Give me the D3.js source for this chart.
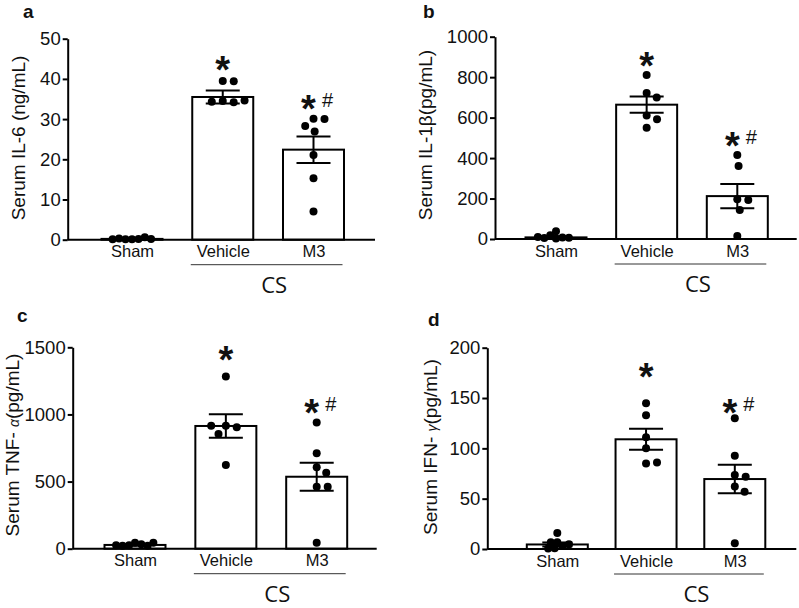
<!DOCTYPE html>
<html>
<head>
<meta charset="utf-8">
<script src="https://cdnjs.cloudflare.com/ajax/libs/d3/7.8.5/d3.min.js"></script>
<style>
  body { margin: 0; background: #fff; }
  text { font-family: Arial, "Liberation Sans", sans-serif; fill: #111; }
</style>
</head>
<body>
<div id="chart"></div>
<script>
// groups on the x axis
var groups = ["Sham", "Vehicle", "M3"];

// a - IL-6 (ng/mL)
var il6Sham = [0.1, 0.2, 0.1, 0.3, 0.6, 0.2, 0.1];
var il6Vehicle = [39.5, 39.4, 34.5, 34.2, 34.3, 34.6];
var il6M3 = [30.1, 30.0, 28.3, 26.9, 21.1, 15.3, 7.0];
var il6Mean = [0.2, 35.5, 22.4];
var il6Sem = [0.1, 1.6, 3.3];
var il6Ticks = [0, 10, 20, 30, 40, 50];

// b - IL-1beta (pg/mL)
var il1Sham = [3, 8, 18, 5, 38, 6, 10];
var il1Vehicle = [811, 722, 700, 610, 592, 550];
var il1M3 = [415, 361, 196, 193, 143, 15];
var il1Mean = [8, 664, 212];
var il1Sem = [5, 40, 60];
var il1Ticks = [0, 200, 400, 600, 800, 1000];

// c - TNF-alpha (pg/mL)
var tnfSham = [45, 33, 25, 22, 22, 25, 45];
var tnfVehicle = [1282, 916, 904, 855, 916, 624];
var tnfM3 = [939, 711, 607, 566, 462, 462, 45];
var tnfMean = [28, 914, 536];
var tnfSem = [6, 87, 104];
var tnfTicks = [0, 500, 1000, 1500];

// d - IFN-gamma (pg/mL)
var ifnSham = [16, 6.6, 3, 0.7, 0.5, 4.7, 6.6];
var ifnVehicle = [144.8, 133, 111, 100, 85, 86];
var ifnM3 = [130, 92.7, 73.5, 71.8, 62, 57, 5.6];
var ifnMean = [4.5, 109, 69.5];
var ifnSem = [2, 10.4, 14.2];
var ifnTicks = [0, 50, 100, 150, 200];

var W = 799, H = 608;
var barW = 61, dotR = 4;

var svg = d3.select("#chart").append("svg")
    .attr("width", W)
    .attr("height", H);

// panel layout (pixels) + where the significance marks sit (data units)
var panels = [
  {letter: "a", lx: 23, ly: 18, ax: 67.7, y0: 239.7, yTop: 38.7, c0: 64.3, c1: 245.8, w: 307.3,
   max: 50, ticks: il6Ticks, pts: [il6Sham, il6Vehicle, il6M3], mean: il6Mean, sem: il6Sem,
   labX: 18, labY: 138, label: ["Serum IL-6 (ng/mL)"], star: [44.6, 35]},
  {letter: "b", lx: 423, ly: 18, ax: 495, y0: 239, yTop: 36.7, c0: 61, c1: 242.3, w: 301.7,
   max: 1000, ticks: il1Ticks, pts: [il1Sham, il1Vehicle, il1M3], mean: il1Mean, sem: il1Sem,
   labX: 425, labY: 135, label: ["Serum IL-1\u03b2(pg/mL)"], star: [905, 510]},
  {letter: "c", lx: 17, ly: 322, ax: 72.7, y0: 548.7, yTop: 347.3, c0: 62.3, c1: 244, w: 304,
   max: 1500, ticks: tnfTicks, pts: [tnfSham, tnfVehicle, tnfM3], mean: tnfMean, sem: tnfSem,
   labX: 12, labY: 445, label: ["Serum TNF- ", "\u03b1", "(pg/mL)"], star: [1480, 1086]},
  {letter: "d", lx: 428, ly: 326, ax: 487.3, y0: 549, yTop: 347.7, c0: 70, c1: 247.5, w: 309,
   max: 200, ticks: ifnTicks, pts: [ifnSham, ifnVehicle, ifnM3], mean: ifnMean, sem: ifnSem,
   labX: 430, labY: 447, label: ["Serum IFN- ", "\u03b3", "(pg/mL)"], star: [181, 145]}
];

// simple beeswarm: each point goes to the closest free spot to the centre
function swarm(vals, yS, dist) {
  var placed = [];
  return vals.map(function(v) {
    var py = yS(v), cands = [0];
    placed.forEach(function(q) {
      var dy = py - q.y;
      if (Math.abs(dy) < dist) {
        var dx = Math.sqrt(dist * dist - dy * dy);
        cands.push(q.x + dx, q.x - dx);
      }
    });
    cands.sort(function(a, b) { return Math.abs(a) - Math.abs(b); });
    var best = cands.find(function(c) {
      return placed.every(function(q) {
        return (c - q.x) * (c - q.x) + (py - q.y) * (py - q.y) >= dist * dist - 0.01;
      });
    });
    placed.push({x: best, y: py});
    return {x: best, y: py};
  });
}

panels.forEach(function(p) {
  var y = d3.scaleLinear().domain([0, p.max]).range([p.y0, p.yTop]);
  var x = d3.scalePoint().domain(groups).range([p.ax + p.c0, p.ax + p.c1]);
  var g = svg.append("g");

  // panel letter
  g.append("text").attr("x", p.lx).attr("y", p.ly)
    .style("font-weight", "bold").style("font-size", "19px").text(p.letter);

  // bars
  g.selectAll(".bar").data(groups).enter().append("rect")
    .attr("class", "bar")
    .attr("x", function(d) { return x(d) - barW / 2; })
    .attr("y", function(d, i) { return y(p.mean[i]); })
    .attr("width", barW)
    .attr("height", function(d, i) { return p.y0 - y(p.mean[i]); })
    .attr("fill", "#fff").attr("stroke", "#000").attr("stroke-width", 2);

  // error bars (mean +/- SEM)
  groups.forEach(function(gr, i) {
    var cx = x(gr), hi = y(p.mean[i] + p.sem[i]), lo = y(Math.max(0, p.mean[i] - p.sem[i]));
    var cap = gr == "Sham" ? 30 : 34;
    g.append("line").attr("x1", cx).attr("x2", cx).attr("y1", hi).attr("y2", lo)
      .attr("stroke", "#000").attr("stroke-width", 2);
    [hi, lo].forEach(function(yy) {
      g.append("line").attr("x1", cx - cap / 2).attr("x2", cx + cap / 2).attr("y1", yy).attr("y2", yy)
        .attr("stroke", "#000").attr("stroke-width", 2);
    });
  });

  // dots
  groups.forEach(function(gr, i) {
    var pos = swarm(p.pts[i], y, gr == "Sham" ? 6.5 : 11);
    g.selectAll(".dot" + i).data(pos).enter().append("circle")
      .attr("cx", function(d) { return x(gr) + d.x; })
      .attr("cy", function(d) { return d.y; })
      .attr("r", dotR)
      .attr("fill", "#000");
  });

  // y axis
  var yAxis = g.append("g").attr("transform", "translate(" + p.ax + ",0)")
    .call(d3.axisLeft(y).tickValues(p.ticks).tickFormat(d3.format("d"))
      .tickSize(5).tickSizeOuter(0).tickPadding(2));
  yAxis.selectAll("path,line").attr("stroke", "#000").attr("stroke-width", 2);
  yAxis.selectAll("text").style("font-size", "18.5px").attr("fill", "#111")
    .style("font-family", "Arial, 'Liberation Sans', sans-serif");

  // x axis: plain baseline + group names
  g.append("line").attr("x1", p.ax).attr("x2", p.ax + p.w).attr("y1", p.y0).attr("y2", p.y0)
    .attr("stroke", "#000").attr("stroke-width", 2);
  var xAxis = g.append("g").attr("transform", "translate(0," + p.y0 + ")")
    .call(d3.axisBottom(x).tickSize(0).tickPadding(6));
  xAxis.select(".domain").remove();
  xAxis.selectAll("text").style("font-size", "16.5px").attr("fill", "#111")
    .style("font-family", "Arial, 'Liberation Sans', sans-serif");

  // CS bracket under Vehicle and M3
  g.append("line")
    .attr("x1", x("Vehicle") - 32).attr("x2", x("M3") + 29)
    .attr("y1", p.y0 + 25).attr("y2", p.y0 + 25)
    .attr("stroke", "#333").attr("stroke-width", 1);
  g.append("text")
    .attr("x", (x("Vehicle") + x("M3")) / 2 + 6).attr("y", p.y0 + 53)
    .attr("text-anchor", "middle")
    .style("font-family", "'Open Sans', 'Noto Sans', sans-serif").style("font-size", "22px")
    .text("CS");

  // y label
  var lab = g.append("text")
    .attr("transform", "translate(" + p.labX + "," + p.labY + ") rotate(-90)")
    .attr("text-anchor", "middle").attr("dy", "0.35em")
    .style("font-size", "19px");
  p.label.forEach(function(s, k) {
    var t = lab.append("tspan").text(s);
    if (k == 1) t.style("font-size", "14px").style("font-style", "italic");
  });

  // significance marks
  var fs = 38;
  g.append("text").attr("x", x("Vehicle")).attr("y", y(p.star[0]) + fs * 0.6)
    .attr("text-anchor", "middle").style("font-size", fs + "px").style("font-weight", "bold").text("*");
  g.append("text").attr("x", x("M3") - 5).attr("y", y(p.star[1]) + fs * 0.6)
    .attr("text-anchor", "middle").style("font-size", fs + "px").style("font-weight", "bold").text("*");
  g.append("text").attr("x", x("M3") + 14).attr("y", y(p.star[1]) + 8)
    .attr("text-anchor", "middle").style("font-size", "20px").text("#");
});
</script>
</body>
</html>
